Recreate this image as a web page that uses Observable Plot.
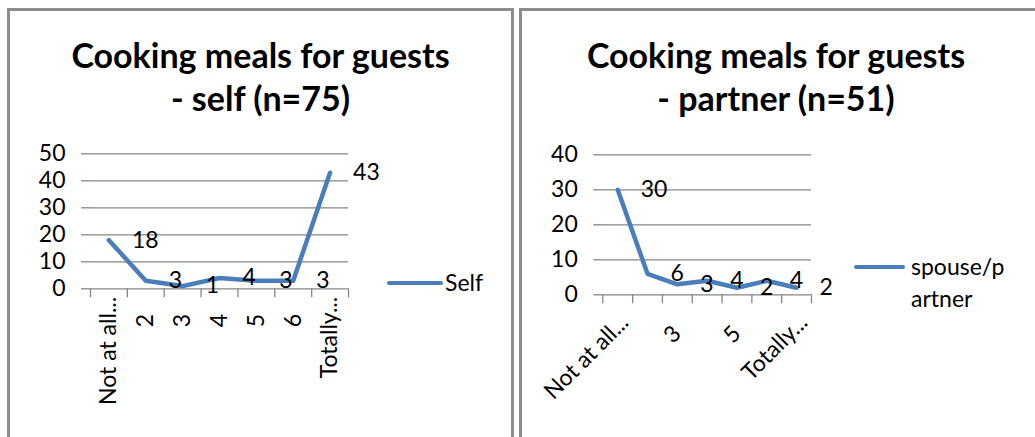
<!DOCTYPE html>
<html>
<head>
<meta charset="utf-8">
<script src="https://cdn.jsdelivr.net/npm/d3@7"></script>
<script src="https://cdn.jsdelivr.net/npm/@observablehq/plot@0.6"></script>
<style>
  html, body { margin: 0; padding: 0; background: #fff; }
  body { width: 1035px; height: 437px; overflow: hidden; position: relative; font-family: Lato, "Open Sans", sans-serif; color: #000; }
  .panel { position: absolute; top: 8px; height: 460px; border: 3px solid #8c8c8c; border-bottom: none; box-sizing: border-box; }
  .title { position: absolute; top: 33px; text-align: center; font-weight: bold; font-size: 34px; line-height: 43px; }
  .chart { position: absolute; top: 140px; }
  .legend { position: absolute; display: flex; align-items: flex-start; font-size: 23px; line-height: 32px; }
  .swatch { position: absolute; height: 4.5px; border-radius: 3px; background: #4a7ebb; }
</style>
</head>
<body>
<div class="panel" style="left:7px;width:507px;"></div>
<div class="panel" style="left:519px;width:530px;"></div>
<div class="title" style="left:7px;width:507px;">Cooking meals for guests<br>- self (n=75)</div>
<div class="title" style="left:519px;width:514px;">Cooking meals for guests<br>- partner (n=51)</div>
<div id="c1" class="chart" style="left:0px;"></div>
<div id="c2" class="chart" style="left:515px;"></div>
<div class="swatch" style="left:387px;top:280.5px;width:56px;"></div>
<div class="legend" style="left:445px;top:266px;">Self</div>
<div class="swatch" style="left:854px;top:264.5px;width:51px;"></div>
<div class="legend" style="left:911px;top:250px;">spouse/p<br>artner</div>
<script>
const categories = ["Not at all...", "2", "3", "4", "5", "6", "Totally..."];
const selfValues = [18, 3, 1, 4, 3, 3, 43];
const partnerValues = [30, 6, 3, 4, 2, 4, 2];
const selfTicks = [0, 10, 20, 30, 40, 50];
const partnerTicks = [0, 10, 20, 30, 40];
const selfLabelIdx = [0, 1, 2, 3, 4, 5, 6];
const partnerLabelIdx = [0, 2, 4, 6];

const LINE = "#4a7ebb";
const GRID = "#868686";

function makeChart(cfg) {
  const rows = categories.map((c, i) => ({i, cat: c, value: cfg.values[i]}));
  const bounds = d3.range(categories.length + 1).map(k => k - 0.5);
  const longIdx = cfg.labelIdx.filter(i => isNaN(+categories[i]));
  const digitIdx = cfg.labelIdx.filter(i => !isNaN(+categories[i]));
  return Plot.plot({
    width: cfg.width,
    height: cfg.height,
    marginLeft: cfg.marginLeft,
    marginRight: cfg.marginRight,
    marginTop: cfg.marginTop,
    marginBottom: cfg.marginBottom,
    style: {fontFamily: "Lato, 'Open Sans', sans-serif", fontSize: "23px", color: "#000", background: "transparent", overflow: "visible"},
    x: {type: "linear", domain: [-0.5, categories.length - 0.5]},
    y: {domain: [0, cfg.yMax]},
    marks: [
      Plot.gridY(cfg.ticks, {stroke: GRID, strokeOpacity: 1, strokeWidth: 1.3}),
      Plot.axisY({ticks: cfg.ticks, tickSize: 9, tickPadding: 16, stroke: GRID, strokeWidth: 1.3, fill: "#000", label: null, tickFormat: d => String(d)}),
      Plot.axisX({ticks: bounds, tickSize: 9, tickFormat: () => "", stroke: GRID, strokeWidth: 1.3, label: null}),
      Plot.axisX({ticks: longIdx, tickSize: 0, tickPadding: cfg.longPad, dx: cfg.longDx, tickRotate: cfg.rotate, tickFormat: i => categories[i], fill: "#000", label: null}),
      Plot.axisX({ticks: digitIdx, tickSize: 0, tickPadding: cfg.digitPad, dx: cfg.digitDx, tickRotate: cfg.rotate, tickFormat: i => categories[i], fill: "#000", label: null}),
      Plot.line(rows, {x: "i", y: "value", stroke: LINE, strokeWidth: 4.5, strokeLinejoin: "round", strokeLinecap: "round"}),
      Plot.text(rows, {x: "i", y: "value", text: d => String(d.value), dx: 23, textAnchor: "start", fill: "#000", fontSize: 23})
    ]
  });
}

document.getElementById("c1").append(makeChart({
  values: selfValues, ticks: selfTicks, yMax: 50, labelIdx: selfLabelIdx,
  width: 360, height: 297, marginLeft: 90, marginRight: 12, marginTop: 13.3, marginBottom: 148.7,
  rotate: -90, longPad: 8, longDx: 0, digitPad: 25, digitDx: 0
}));
document.getElementById("c2").append(makeChart({
  values: partnerValues, ticks: partnerTicks, yMax: 40, labelIdx: partnerLabelIdx,
  width: 520, height: 297, marginLeft: 87.3, marginRight: 224, marginTop: 14.3, marginBottom: 142.7,
  rotate: -45, longPad: 24, longDx: 7, digitPad: 35, digitDx: 0
}));
</script>
</body>
</html>
